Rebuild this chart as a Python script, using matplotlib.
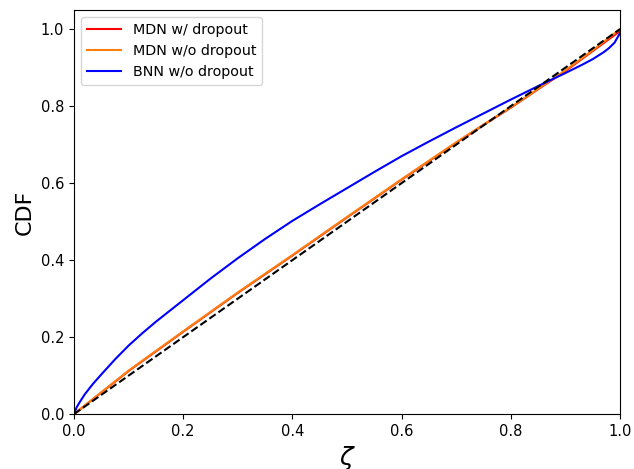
import matplotlib
matplotlib.use("Agg")
import matplotlib.pyplot as plt

# Werte
zeta_bnn = [0.0, 0.005, 0.01, 0.02, 0.035, 0.05, 0.075, 0.1, 0.125, 0.15,
            0.2, 0.25, 0.3, 0.35, 0.4, 0.45, 0.5, 0.55, 0.6, 0.65, 0.7,
            0.75, 0.8, 0.85, 0.9, 0.93, 0.95, 0.97, 0.98, 0.99, 1.0]
cdf_bnn = [0.0, 0.018, 0.03, 0.052, 0.079, 0.103, 0.142, 0.178, 0.21, 0.24,
           0.296, 0.352, 0.405, 0.455, 0.502, 0.545, 0.587, 0.629, 0.67,
           0.708, 0.745, 0.781, 0.817, 0.852, 0.886, 0.907, 0.922, 0.94,
           0.951, 0.965, 0.99]

zeta_mdn = [0.0, 0.1, 0.2, 0.3, 0.4, 0.5, 0.6, 0.7, 0.75, 0.8, 0.85,
            0.9, 0.95, 1.0]
cdf_mdn_do = [0.0, 0.112, 0.214, 0.315, 0.412, 0.511, 0.609, 0.705, 0.751,
              0.796, 0.844, 0.891, 0.943, 0.995]
cdf_mdn_nodo = [0.0, 0.113, 0.215, 0.316, 0.413, 0.512, 0.61, 0.706, 0.752,
                0.797, 0.845, 0.893, 0.945, 1.0]

fig, ax = plt.subplots(figsize=(6.34, 4.69), dpi=100)
fig.subplots_adjust(left=0.1167, right=0.978, bottom=0.117, top=0.979)

ax.plot(zeta_mdn, cdf_mdn_do, color="red", linewidth=1.5, label="MDN w/ dropout")
ax.plot(zeta_mdn, cdf_mdn_nodo, color="#ff7f0e", linewidth=1.5,
        label="MDN w/o dropout")
ax.plot(zeta_bnn, cdf_bnn, color="blue", linewidth=1.5, label="BNN w/o dropout")
ax.plot([0, 1], [0, 1], "k--", linewidth=1.5)

ax.set_xlim(0, 1)
ax.set_ylim(0, 1.05)
ax.tick_params(labelsize=10.5)
ax.set_xlabel(r"$\zeta$", fontsize=18)
ax.set_ylabel("CDF", fontsize=16)
ax.legend(loc="upper left", fontsize=10.3, handlelength=2.4)

fig.savefig("out.png", dpi=100)
